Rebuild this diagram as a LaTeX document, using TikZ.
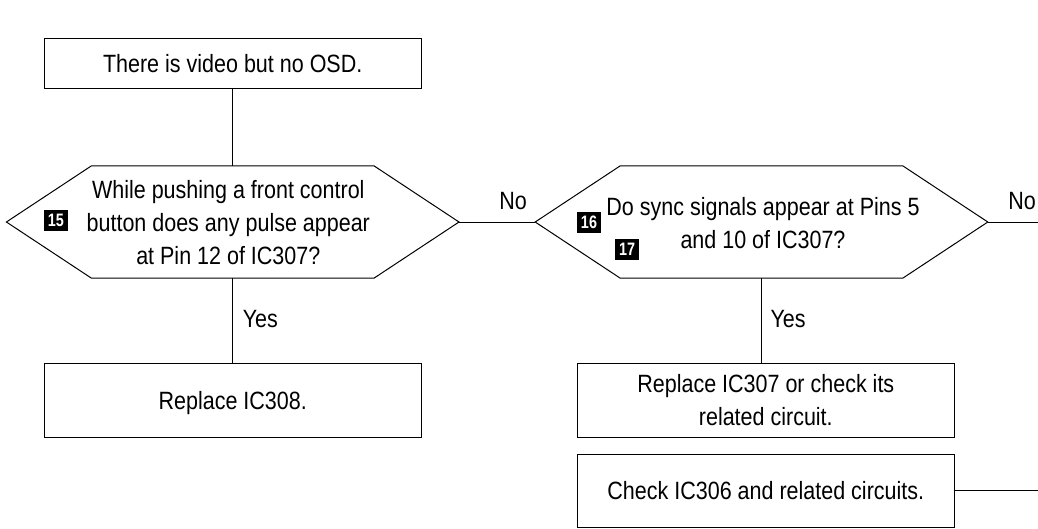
\documentclass[tikz,border=0pt]{standalone}
\usepackage{fontspec}
\setmainfont{Liberation Sans}[FakeStretch=0.86]
\newfontfamily\badgefont[FakeStretch=0.8]{Liberation Sans}
\begin{document}
\begin{tikzpicture}[x=1pt,y=-1pt,line width=1pt,
  every node/.style={font=\fontsize{25}{33}\selectfont},
  box/.style={draw, rectangle, minimum width=377.3pt, minimum height=74pt, inner sep=0pt, align=center},
  oneline/.style={text height=17.9pt, text depth=0pt},
  hexshape/.style={minimum width=451.6pt, minimum height=111.3pt, inner sep=0pt, draw=none},
  qtext/.style={align=center, inner sep=0pt},
  badge/.style={fill=black, text=white, minimum width=24pt, minimum height=21pt, inner sep=0pt,
    font=\badgefont\bfseries\fontsize{18}{18}\selectfont},
  lbl/.style={inner sep=0pt, text height=17.9pt, text depth=0pt}
]
\useasboundingbox (0,0) rectangle (1038,528);

% start box
\node[box, oneline, minimum height=50.7pt] (start) at (232.7,63.6) {There is video but no OSD.};

% question 1
\node[hexshape] (q1) at (232.7,222) {};
\draw (q1.west) -- ([xshift=85pt]q1.north west) -- ([xshift=-85pt]q1.north east) -- (q1.east)
  -- ([xshift=-85pt]q1.south east) -- ([xshift=85pt]q1.south west) -- cycle;
\node[qtext] (q1t) at (228.3,222.4) {While pushing a front control\\button does any pulse appear\\at Pin 12 of IC307?};
\node[badge] (b15) at (56,220) {15};

% question 2
\node[hexshape] (q2) at (761.5,222) {};
\draw (q2.west) -- ([xshift=85pt]q2.north west) -- ([xshift=-85pt]q2.north east) -- (q2.east)
  -- ([xshift=-85pt]q2.south east) -- ([xshift=85pt]q2.south west) -- cycle;
\node[qtext] (q2t) at (763,223.4) {Do sync signals appear at Pins 5\\and 10 of IC307?};
\node[badge] (b16) at (589,222.5) {16};
\node[badge] (b17) at (627,249) {17};

% result boxes
\node[box, oneline] (r1) at (232.7,400.3) {Replace IC308.};
\node[box] (r2) at (765.8,400.3) {Replace IC307 or check its\\related circuit.};
\node[box, oneline, minimum height=73.3pt] (r3) at (765.8,490.7) {Check IC306 and related circuits.};

% free ends
\coordinate (e1) at (1038,222);
\coordinate (e2) at (1038,490.7);

% connectors
\draw (start.south) -- (q1.north);
\draw (q1.south) -- (r1.north);
\draw (q1.east) -- (q2.west);
\draw (q2.east) -- (e1);
\draw (q2.south) -- (q2.south |- r2.north);
\draw (r3.east) -- (e2);

% labels
\node[lbl, anchor=west] (yes1) at (242.3,318.3) {Yes};
\node[lbl, anchor=west] (yes2) at (770,318.3) {Yes};
\node[lbl] (no1) at (513,201) {No};
\node[lbl] (no2) at (1022,201) {No};
\end{tikzpicture}
\end{document}
